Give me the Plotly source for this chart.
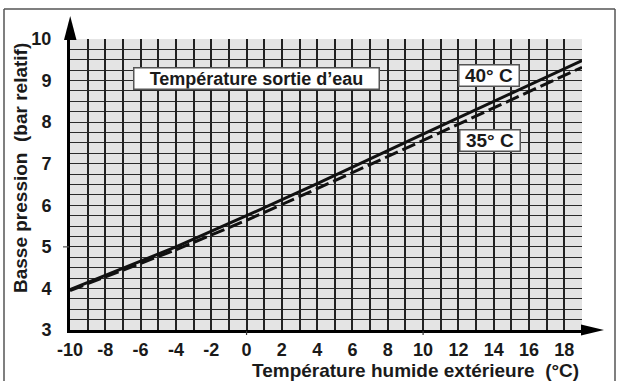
import plotly.graph_objects as go

# ---- data ----
temp_ext = [-10, -4, 0, 4, 10, 19]
pression_40 = [3.97, 5.0, 5.75, 6.52, 7.71, 9.48]
pression_35 = [3.95, 4.93, 5.64, 6.40, 7.56, 9.32]
x_ticks = list(range(-10, 19, 2))
y_ticks = list(range(3, 11))
label_title = "Température sortie d’eau"
label_40 = "40° C"
label_35 = "35° C"

FONT = "Liberation Sans, Arial, Helvetica, sans-serif"
INK = "#1a1a1a"

fig = go.Figure()
fig.add_trace(go.Scatter(x=temp_ext, y=pression_40, mode="lines",
                         line=dict(color="#111111", width=3), showlegend=False))
fig.add_trace(go.Scatter(x=temp_ext, y=pression_35, mode="lines",
                         line=dict(color="#111111", width=3, dash="14px,5px"), showlegend=False))

L, R, T, B = 70, 35, 39, 51
W, H = 617, 381
pw, ph = W - L - R, H - T - B

def px(xp):
    return (xp - L) / pw

def py(yp):
    return (H - B - yp) / ph

fig.update_layout(
    width=W, height=H,
    margin=dict(l=L, r=R, t=T, b=B),
    paper_bgcolor="white",
    plot_bgcolor="#e4e4e4",
    font=dict(family=FONT, color=INK),
    xaxis=dict(range=[-10, 19], tickvals=x_ticks, ticktext=[str(v) for v in x_ticks],
               showgrid=True, gridcolor="#222222", gridwidth=1.6,
               minor=dict(dtick=1, tick0=-10, showgrid=True, gridcolor="#222222", gridwidth=1.6),
               showline=True, linecolor="#000000", linewidth=3,
               ticks="outside", ticklen=1, tickcolor="rgba(0,0,0,0)",
               tickfont=dict(size=18, weight="bold", family=FONT, color=INK),
               zeroline=False, fixedrange=True),
    yaxis=dict(range=[3, 10], tickvals=y_ticks, ticktext=[str(v) for v in y_ticks],
               showgrid=True, gridcolor="#2a2a2a", gridwidth=1.2,
               minor=dict(dtick=0.25, tick0=3, showgrid=True, gridcolor="#2a2a2a", gridwidth=1.2),
               showline=True, linecolor="#000000", linewidth=3,
               ticks="outside", ticklen=12, tickcolor="rgba(0,0,0,0)",
               tickfont=dict(size=18, weight="bold", family=FONT, color=INK),
               zeroline=False, fixedrange=True),
)

shapes = []
# outer frame (left, top, right)
for (x0, y0, x1, y1) in [(4, 9, 4, 385), (4, 9, 615, 9), (615, 9, 615, 385)]:
    shapes.append(dict(type="line", xref="paper", yref="paper",
                       x0=px(x0), y0=py(y0), x1=px(x1), y1=py(y1),
                       line=dict(color="#555555", width=1.5)))
# arrowheads
shapes.append(dict(type="path", xref="paper", yref="paper",
                   path=f"M {px(64)},{py(40)} L {px(76.5)},{py(40)} L {px(70.2)},{py(16)} Z",
                   fillcolor="#000000", line=dict(width=0)))
shapes.append(dict(type="path", xref="paper", yref="paper",
                   path=f"M {px(581)},{py(324.5)} L {px(581)},{py(335.5)} L {px(604)},{py(330)} Z",
                   fillcolor="#000000", line=dict(width=0)))
# small tick marks
for xv in (0, 10):
    shapes.append(dict(type="line", xref="x", yref="paper", x0=xv, x1=xv,
                       y0=py(331), y1=py(335), line=dict(color="#333333", width=1.2)))
shapes.append(dict(type="line", xref="paper", yref="y", x0=px(63), x1=px(69), y0=5, y1=5,
                   line=dict(color="#555555", width=1.2)))
fig.update_layout(shapes=shapes)

box = dict(showarrow=False, bgcolor="white", bordercolor="#555555", borderwidth=1.5,
           borderpad=0, align="center", xanchor="center", yanchor="middle",
           xref="paper", yref="paper")
ann = []
ann.append(dict(text=label_title, x=px(256.5), y=py(78), width=244, height=20,
                font=dict(size=18, weight="bold", family=FONT, color=INK), **box))
ann.append(dict(text=label_40, x=px(489), y=py(75.3), width=59, height=20,
                font=dict(size=19, weight="bold", family=FONT, color=INK), **box))
ann.append(dict(text=label_35, x=px(489.5), y=py(140.8), width=59, height=20,
                font=dict(size=19, weight="bold", family=FONT, color=INK), **box))
# axis titles
ann.append(dict(text="Basse pression  (bar relatif)", xref="paper", yref="paper",
                x=px(20.5), y=py(168.5), textangle=-90, showarrow=False,
                xanchor="center", yanchor="middle",
                font=dict(size=19, weight="bold", family=FONT, color=INK)))
ann.append(dict(text="Température humide extérieure  (°C)", xref="paper", yref="paper",
                x=px(415.5), y=py(370), showarrow=False,
                xanchor="center", yanchor="middle",
                font=dict(size=19, weight="bold", family=FONT, color=INK)))
fig.update_layout(annotations=ann)

fig.write_html("out.html", config={"displayModeBar": False},
               post_script="document.body.style.margin='0';document.body.style.overflow='hidden';")
